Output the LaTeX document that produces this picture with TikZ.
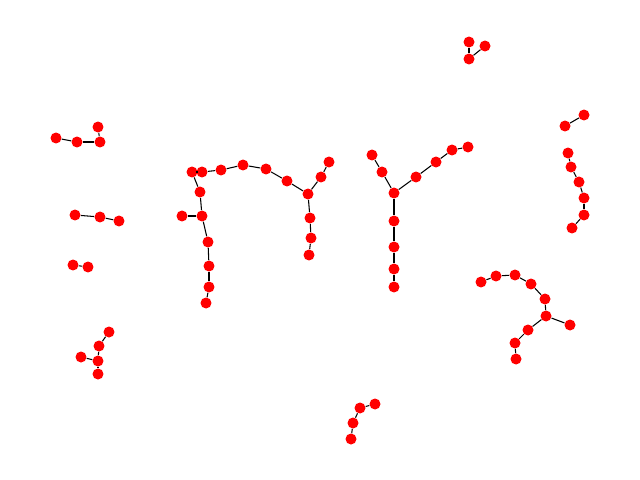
\documentclass[tikz,border=0pt]{standalone}
\usepackage{tikz}

\tikzset{vtx/.style={circle, fill=red, inner sep=0pt, minimum size=0.22cm},
  edg/.style={black, line width=0.6pt}}

\begin{document}
\begin{tikzpicture}[x=0.02cm, y=-0.02cm]
\useasboundingbox (0,0) rectangle (640,480);
% vertices
\foreach \n/\x/\y in {a1/56/138, a2/77/142, a3/100/142, a4/98/127,
  b1/75/215, b2/100/217, b3/119/221,
  c1/73/265, c2/88/267,
  d1/109/332, d2/99/346, d3/81/357, d4/98/361, d5/98/374,
  e1/192/172, e2/202/172, e3/221/170, e4/243/165, e5/266/169, e6/287/181,
  e7/308/194, e8/321/177, e9/329/162, e10/310/218, e11/311/238, e12/309/255,
  e13/200/192, e14/202/216, e15/182/216, e16/208/242, e17/209/266,
  e18/209/287, e19/206/303,
  f1/372/155, f2/382/172, f3/394/193, f4/416/177, f5/436/162, f6/452/150,
  f7/468/147, f8/394/221, f9/394/247, f10/394/269, f11/394/287,
  g1/481/282, g2/496/276, g3/515/275, g4/531/284, g5/545/299, g6/546/316,
  g7/570/325, g8/528/330, g9/515/343, g10/516/359,
  h1/584/115, h2/565/126,
  i1/568/153, i2/571/167, i3/579/182, i4/584/198, i5/584/215, i6/572/228,
  j1/375/404, j2/360/408, j3/353/423, j4/351/439,
  k1/469/42, k2/469/59, k3/485/46}
  \node[vtx] (\n) at (\x,\y) {};
% edges
\foreach \a/\b in {a1/a2, a2/a3, a3/a4, b1/b2, b2/b3, c1/c2,
  d1/d2, d2/d4, d3/d4, d4/d5,
  e1/e2, e2/e3, e3/e4, e4/e5, e5/e6, e6/e7, e7/e8, e8/e9, e7/e10, e10/e11,
  e11/e12, e1/e13, e13/e14, e14/e15, e14/e16, e16/e17, e17/e18, e18/e19,
  f1/f2, f2/f3, f3/f4, f4/f5, f5/f6, f6/f7, f3/f8, f8/f9, f9/f10, f10/f11,
  g1/g2, g2/g3, g3/g4, g4/g5, g5/g6, g6/g7, g6/g8, g8/g9, g9/g10,
  h1/h2, i1/i2, i2/i3, i3/i4, i4/i5, i5/i6,
  j1/j2, j2/j3, j3/j4, k1/k2, k2/k3}
  \draw[edg] (\a) -- (\b);
\end{tikzpicture}
\end{document}
